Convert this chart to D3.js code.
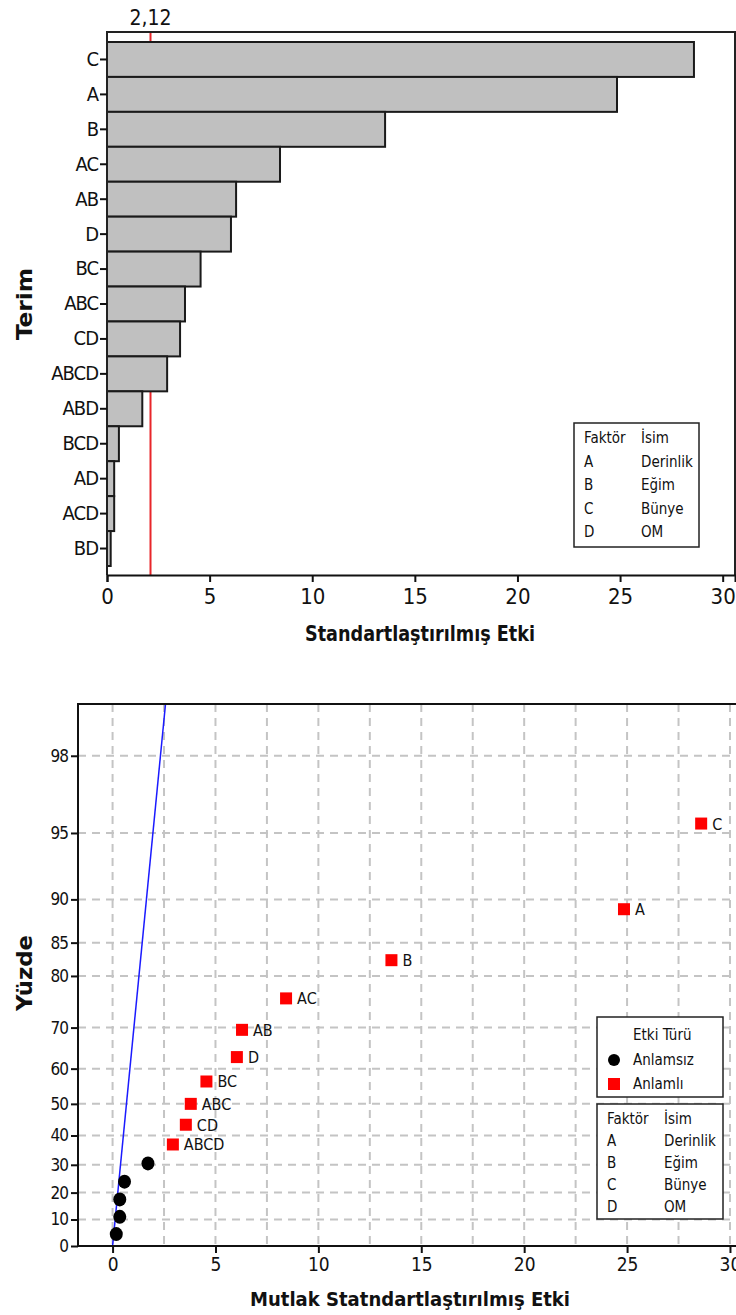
<!DOCTYPE html>
<html>
<head>
<meta charset="utf-8">
<script src="https://cdn.jsdelivr.net/npm/d3@7"></script>
<style>
  body { margin: 0; background: #fff; }
  svg { display: block; }
  text { font-family: "DejaVu Sans Condensed", "DejaVu Sans", sans-serif; fill: #111; }
  .axis path, .axis line { stroke: #111; stroke-width: 2; }
</style>
</head>
<body>
<svg id="chart" width="736" height="1315"></svg>
<script>
// Terms sorted by effect (Pareto order)
const terms = ["C", "A", "B", "AC", "AB", "D", "BC", "ABC", "CD", "ABCD", "ABD", "BCD", "AD", "ACD", "BD"];
const effects = [28.6, 24.85, 13.55, 8.43, 6.29, 6.04, 4.56, 3.8, 3.56, 2.93, 1.72, 0.58, 0.35, 0.35, 0.18];
const criticalValue = 2.12;

// half-normal plot: percent for each term
const percents = [95.5, 89, 82.5, 76, 69.5, 63, 56.5, 50, 43.5, 37, 30.5, 24, 17.5, 11, 4.5];
const significant = [true, true, true, true, true, true, true, true, true, true, false, false, false, false, false];
const pse = 1.0; // slope of the reference line

const xTicks = [0, 5, 10, 15, 20, 25, 30];
const percentTicks = [0, 10, 20, 30, 40, 50, 60, 70, 80, 85, 90, 95, 98];
const gridX = [0, 2.5, 5, 7.5, 10, 12.5, 15, 17.5, 20, 22.5, 25, 27.5, 30];

const factorCodes = ["A", "B", "C", "D"];
const factorNames = ["Derinlik", "Eğim", "Bünye", "OM"];

const svg = d3.select("#chart");

// inverse normal cdf (Acklam)
function probit(p) {
    const a = [-39.6968302866538, 220.946098424521, -275.928510446969, 138.357751867269, -30.6647980661472, 2.50662827745924];
    const b = [-54.4760987982241, 161.585836858041, -155.698979859887, 66.8013118877197, -13.2806815528857];
    const c = [-0.00778489400243029, -0.322396458041136, -2.40075827716184, -2.54973253934373, 4.37466414146437, 2.93816398269878];
    const d = [0.00778469570904146, 0.32246712907004, 2.445134137143, 3.75440866190742];
    const pl = 0.02425;
    let q, r;
    if (p < pl) {
        q = Math.sqrt(-2 * Math.log(p));
        return (((((c[0]*q+c[1])*q+c[2])*q+c[3])*q+c[4])*q+c[5]) / ((((d[0]*q+d[1])*q+d[2])*q+d[3])*q+1);
    } else if (p <= 1 - pl) {
        q = p - 0.5; r = q * q;
        return (((((a[0]*r+a[1])*r+a[2])*r+a[3])*r+a[4])*r+a[5])*q / (((((b[0]*r+b[1])*r+b[2])*r+b[3])*r+b[4])*r+1);
    } else {
        q = Math.sqrt(-2 * Math.log(1 - p));
        return -(((((c[0]*q+c[1])*q+c[2])*q+c[3])*q+c[4])*q+c[5]) / ((((d[0]*q+d[1])*q+d[2])*q+d[3])*q+1);
    }
}
const halfZ = p => probit(0.5 + p / 200);

function factorLegend(g, x0, y0, w, h, rowGap) {
    g.append("rect").attr("x", x0).attr("y", y0).attr("width", w).attr("height", h)
        .attr("fill", "#fff").attr("stroke", "#222").attr("stroke-width", 1.5);
    const rows = [["Faktör", "İsim"]].concat(factorCodes.map((c, i) => [c, factorNames[i]]));
    rows.forEach((r, i) => {
        const y = y0 + 20 + i * rowGap;
        g.append("text").attr("x", x0 + 10).attr("y", y).style("font-size", "15px").text(r[0]);
        g.append("text").attr("x", x0 + 67).attr("y", y).style("font-size", "15px").text(r[1]);
    });
}

//////////////////// Pareto chart ////////////////////
const gTop = svg.append("g");
const x1 = d3.scaleLinear().domain([0, 30.6]).range([107, 735]);
const y1 = d3.scaleBand().domain(terms).range([42, 566]).padding(0);
const top1 = 32, bottom1 = 575;

// critical value line (behind bars)
gTop.append("line")
    .attr("x1", x1(criticalValue)).attr("x2", x1(criticalValue))
    .attr("y1", top1).attr("y2", bottom1)
    .attr("stroke", "#e8262a").attr("stroke-width", 2);

gTop.selectAll("rect.bar")
    .data(terms)
    .enter().append("rect")
    .attr("class", "bar")
    .attr("x", x1(0))
    .attr("y", d => y1(d))
    .attr("width", (d, i) => x1(effects[i]) - x1(0))
    .attr("height", y1.bandwidth())
    .attr("fill", "#c0c0c0")
    .attr("stroke", "#1a1a1a")
    .attr("stroke-width", 2);

// frame
gTop.append("path")
    .attr("d", `M${x1(0)},${bottom1}V${top1}H${x1.range()[1]}V${bottom1}`)
    .attr("fill", "none").attr("stroke", "#222").attr("stroke-width", 2);

gTop.append("g")
    .attr("class", "axis")
    .attr("transform", `translate(0,${bottom1})`)
    .call(d3.axisBottom(x1).tickValues(xTicks).tickSize(7).tickPadding(6).tickFormat(d3.format("d")))
    .call(g => g.selectAll("text").style("font-size", "22px"));

gTop.append("g")
    .attr("class", "axis")
    .attr("transform", `translate(${x1(0)},0)`)
    .call(d3.axisLeft(y1).tickSize(7).tickPadding(2).tickSizeOuter(0))
    .call(g => g.select(".domain").remove())
    .call(g => g.selectAll("text").style("font-size", "20px").attr("letter-spacing", "-1px"));

gTop.append("text")
    .attr("x", x1(criticalValue))
    .attr("y", 25)
    .attr("text-anchor", "middle")
    .style("font-size", "21px")
    .text("2,12");

gTop.append("text")
    .attr("x", 420).attr("y", 641)
    .attr("text-anchor", "middle")
    .attr("textLength", 230).attr("lengthAdjust", "spacingAndGlyphs")
    .style("font-size", "21px").style("font-weight", "bold")
    .text("Standartlaştırılmış Etki");

gTop.append("text")
    .attr("transform", "translate(32,304) rotate(-90)")
    .attr("text-anchor", "middle")
    .attr("textLength", 72).attr("lengthAdjust", "spacingAndGlyphs")
    .style("font-size", "22px").style("font-weight", "bold")
    .text("Terim");

factorLegend(gTop, 574, 423, 125, 124, 23.5);

//////////////////// Half-normal plot ////////////////////
const gBot = svg.append("g");
const x2 = d3.scaleLinear().domain([-1.68, 31.5]).range([78, 78 + 33.18 * 20.58]);
const y2 = d3.scaleLinear().domain([0, 2.572]).range([1246, 704]);
const top2 = 704, bottom2 = 1246;

// grid
gBot.selectAll("line.gx")
    .data(gridX)
    .enter().append("line")
    .attr("x1", d => x2(d)).attr("x2", d => x2(d))
    .attr("y1", top2).attr("y2", bottom2)
    .attr("stroke", "#c4c4c4").attr("stroke-width", 2).attr("stroke-dasharray", "8,6");
gBot.selectAll("line.gy")
    .data(percentTicks.filter(d => d > 0))
    .enter().append("line")
    .attr("x1", x2.range()[0]).attr("x2", 740)
    .attr("y1", d => y2(halfZ(d))).attr("y2", d => y2(halfZ(d)))
    .attr("stroke", "#c4c4c4").attr("stroke-width", 2).attr("stroke-dasharray", "8,6");

// reference line
gBot.append("clipPath").attr("id", "plotclip")
    .append("rect").attr("x", 78).attr("y", top2).attr("width", 700).attr("height", bottom2 - top2);
gBot.append("line")
    .attr("clip-path", "url(#plotclip)")
    .attr("x1", x2(0)).attr("y1", y2(0))
    .attr("x2", x2(pse * 2.572)).attr("y2", y2(2.572))
    .attr("stroke", "#1a1aff").attr("stroke-width", 1.5);

// frame
gBot.append("path")
    .attr("d", `M${x2.range()[0]},${bottom2}V${top2}H740`)
    .attr("fill", "none").attr("stroke", "#111").attr("stroke-width", 2);

gBot.append("g")
    .attr("class", "axis")
    .attr("transform", `translate(0,${bottom2})`)
    .call(d3.axisBottom(x2).tickValues(xTicks).tickSize(7).tickPadding(5).tickSizeOuter(0))
    .call(g => g.select(".domain").attr("d", `M${x2.range()[0]},0H740`))
    .call(g => g.selectAll("text").style("font-size", "19px"));

gBot.append("g")
    .attr("class", "axis")
    .attr("transform", `translate(${x2.range()[0]},0)`)
    .call(d3.axisLeft(y2)
        .tickValues(percentTicks.map(halfZ))
        .tickFormat((d, i) => percentTicks[i])
        .tickSize(7).tickPadding(3).tickSizeOuter(0))
    .call(g => g.select(".domain").remove())
    .call(g => g.selectAll("text").style("font-size", "17px").attr("letter-spacing", "-1px"));

// points
const pts = terms.map((t, i) => ({term: t, effect: effects[i], pct: percents[i], sig: significant[i]}));

gBot.selectAll("ellipse.pt")
    .data(pts.filter(d => !d.sig))
    .enter().append("ellipse")
    .attr("class", "pt")
    .attr("cx", d => x2(d.effect))
    .attr("cy", d => y2(halfZ(d.pct)))
    .attr("rx", 6.5).attr("ry", 7)
    .attr("fill", "#000");

gBot.selectAll("rect.pt")
    .data(pts.filter(d => d.sig))
    .enter().append("rect")
    .attr("class", "pt")
    .attr("x", d => x2(d.effect) - 6)
    .attr("y", d => y2(halfZ(d.pct)) - 6)
    .attr("width", 12).attr("height", 12)
    .attr("fill", "#f00");

gBot.selectAll("text.lbl")
    .data(pts.filter(d => d.sig))
    .enter().append("text")
    .attr("class", "lbl")
    .attr("x", d => x2(d.effect) + 11)
    .attr("y", d => y2(halfZ(d.pct)) + 6)
    .style("font-size", "16px")
    .text(d => d.term);

gBot.append("text")
    .attr("x", 410).attr("y", 1306)
    .attr("text-anchor", "middle")
    .attr("textLength", 320).attr("lengthAdjust", "spacingAndGlyphs")
    .style("font-size", "20px").style("font-weight", "bold")
    .text("Mutlak Statndartlaştırılmış Etki");

gBot.append("text")
    .attr("transform", "translate(32,973) rotate(-90)")
    .attr("text-anchor", "middle")
    .attr("textLength", 76).attr("lengthAdjust", "spacingAndGlyphs")
    .style("font-size", "21px").style("font-weight", "bold")
    .text("Yüzde");

// effect type legend
gBot.append("rect").attr("x", 597).attr("y", 1017).attr("width", 126).attr("height", 80)
    .attr("fill", "#fff").attr("stroke", "#222").attr("stroke-width", 1.5);
gBot.append("text").attr("x", 633).attr("y", 1040).style("font-size", "15px").text("Etki Türü");
gBot.append("circle").attr("cx", 614).attr("cy", 1060).attr("r", 6).attr("fill", "#000");
gBot.append("text").attr("x", 633).attr("y", 1065).style("font-size", "15px").text("Anlamsız");
gBot.append("rect").attr("x", 608).attr("y", 1078).attr("width", 12).attr("height", 12).attr("fill", "#f00");
gBot.append("text").attr("x", 633).attr("y", 1089).style("font-size", "15px").text("Anlamlı");

factorLegend(gBot, 597, 1104, 126, 115, 22);
</script>
</body>
</html>
